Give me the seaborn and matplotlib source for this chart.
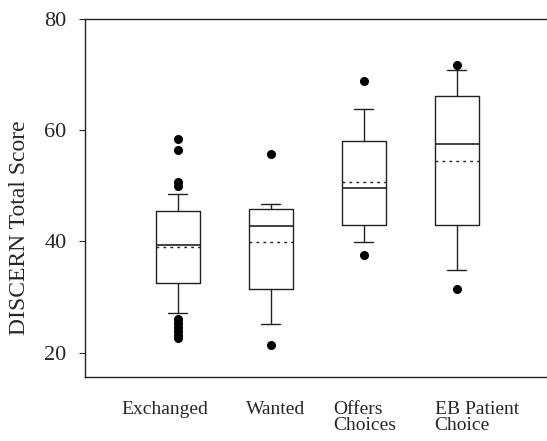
import matplotlib
matplotlib.use("Agg")
import matplotlib.pyplot as plt
import matplotlib.transforms as mtransforms
import seaborn as sns

# groups and box statistics
groups = ["Exchanged", "Wanted", "Offers\nChoices", "EB Patient\nChoice"]
q1 = [32.6, 31.5, 43.0, 43.0]
median = [39.3, 42.7, 49.6, 57.6]
q3 = [45.4, 45.8, 58.1, 66.1]
mean = [39.0, 39.8, 50.7, 54.4]
whislo = [27.1, 25.2, 39.8, 34.8]
whishi = [48.6, 46.7, 63.8, 70.9]
fliers = [
    [58.4, 56.5, 50.6, 49.9, 26.0, 25.3, 24.6, 23.9, 23.2, 22.7],
    [55.8, 21.4],
    [68.9, 37.5],
    [71.8, 31.4],
]

sns.set_style("ticks")
plt.rcParams['font.family'] = ['Liberation Serif', 'DejaVu Serif']

stats = []
for i in range(len(groups)):
    stats.append({"label": groups[i], "q1": q1[i], "med": median[i], "q3": q3[i],
                  "mean": mean[i], "whislo": whislo[i], "whishi": whishi[i],
                  "fliers": fliers[i]})

fig = plt.figure(figsize=(5.47, 4.41), dpi=100)
ax = fig.add_axes([0.155, 0.145, 0.845, 0.812])

line = dict(color="#222222", linewidth=1.0)
ax.bxp(stats, positions=[1, 2, 3, 4], widths=0.47, capwidths=0.2,
       showmeans=True, meanline=True,
       boxprops=line, whiskerprops=line, capprops=line,
       medianprops=dict(color="#222222", linewidth=1.2),
       meanprops=dict(color="#222222", linewidth=1.0, linestyle=(0, (2, 3))),
       flierprops=dict(marker="o", markerfacecolor="black", markeredgecolor="black",
                       markersize=5.5))

ax.set_xlim(0, 4.97)
ax.set_ylim(15.6, 80)
ax.set_yticks([20, 40, 60, 80])
ax.set_ylabel("DISCERN Total Score", fontsize=17)
ax.yaxis.set_label_coords(-0.118, 0.416)
ax.tick_params(axis="y", labelsize=16, length=4, width=0.8, pad=9)
ax.tick_params(axis="x", length=0, labelsize=14, pad=17)
ax.set_xticks([1, 2, 3, 4])
ax.set_xticklabels(groups, ha="center", multialignment="left", linespacing=0.95)
shifts = [-13, 5, 1, 20]
for lab, dx in zip(ax.get_xticklabels(), shifts):
    lab.set_transform(lab.get_transform() + mtransforms.ScaledTranslation(dx / 100, 0, fig.dpi_scale_trans))

ax.spines["right"].set_visible(False)
for s in ["left", "bottom", "top"]:
    ax.spines[s].set_linewidth(1.0)
    ax.spines[s].set_color("#222222")

fig.savefig("out.png", dpi=100)
